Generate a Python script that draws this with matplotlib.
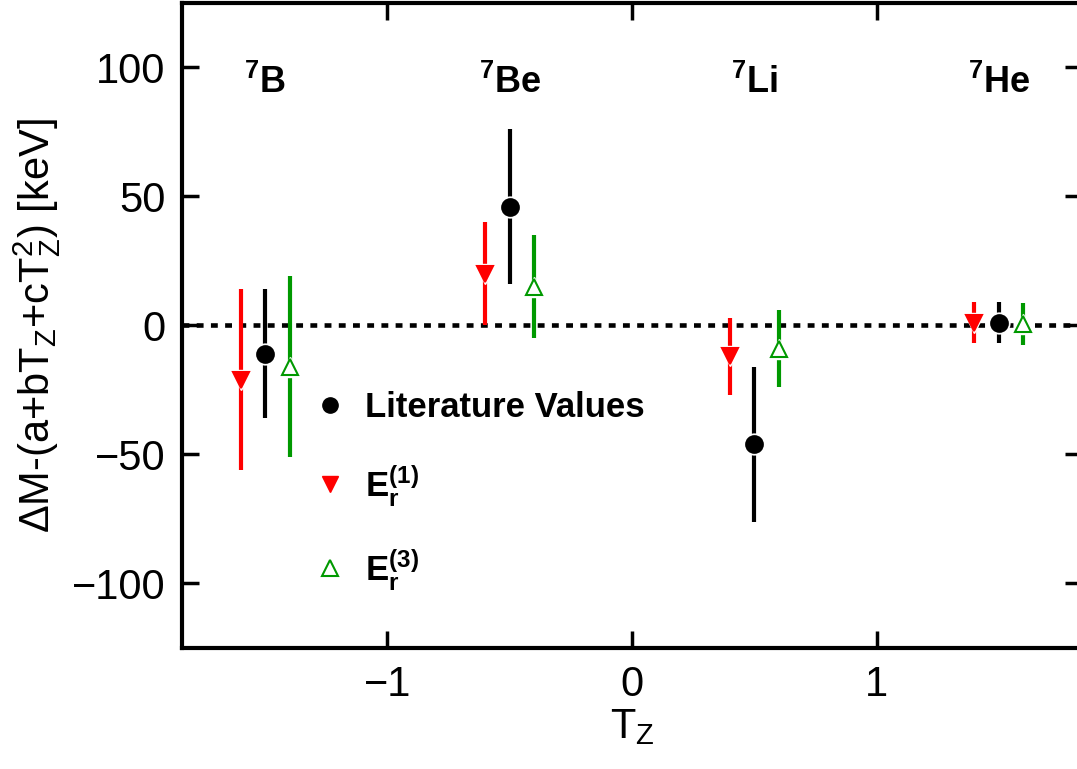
import matplotlib
matplotlib.use("Agg")
import matplotlib.pyplot as plt
from matplotlib.lines import Line2D

plt.rcParams['font.family'] = ['Liberation Sans', 'DejaVu Sans']
plt.rcParams['mathtext.fontset'] = 'custom'
plt.rcParams['mathtext.rm'] = 'Liberation Sans'
plt.rcParams['mathtext.it'] = 'Liberation Sans'
plt.rcParams['mathtext.bf'] = 'Liberation Sans:bold'
plt.rcParams['mathtext.default'] = 'regular'

# Data
tz = [-1.5, -0.5, 0.5, 1.5]
nuclei = ["B", "Be", "Li", "He"]
lit_y = [-11, 46, -46, 1]
lit_err = [25, 30, 30, 8]
e1_x = [-1.6, -0.6, 0.4, 1.4]
e1_y = [-21, 20, -12, 1]
e1_err = [35, 20, 15, 8]
e3_x = [-1.4, -0.4, 0.6, 1.6]
e3_y = [-16, 15, -9, 0.5]
e3_err = [35, 20, 15, 8]

RED = "#ff0000"
GREEN = "#009900"

fig = plt.figure(figsize=(10.77, 7.69), dpi=100)
ax = fig.add_axes([0.169, 0.1573, 0.8357, 0.8394])

ax.axhline(0, color="black", lw=3.3, linestyle=(0, (1.5, 1.6)), dash_capstyle="butt", zorder=1)

ms = 12
for xs, ys, es, col, mk, mfc in [
    (e1_x, e1_y, e1_err, RED, "v", RED),
    (tz, lit_y, lit_err, "black", "o", "black"),
    (e3_x, e3_y, e3_err, GREEN, "^", "white"),
]:
    ax.errorbar(xs, ys, yerr=es, fmt="none", ecolor=col, elinewidth=3, capsize=0, zorder=2)
    ax.plot(xs, ys, linestyle="none", marker=mk, markersize=ms + 3, color="white",
            markeredgecolor="white", zorder=3)
    ax.plot(xs, ys, linestyle="none", marker=mk, markersize=ms, markerfacecolor=mfc,
            markeredgecolor=col, markeredgewidth=1.5, zorder=4)

for x, n in zip(tz, nuclei):
    ax.text(x, 94, r"$\mathbf{^{7}" + n + "}$", ha="center", va="center", fontsize=26)

ax.set_xlim(-1.84, 1.84)
ax.set_ylim(-125, 125)
ax.set_xticks([-1, 0, 1])
ax.set_yticks([-100, -50, 0, 50, 100])
ax.tick_params(direction="in", length=12, width=2.5, labelsize=30, top=True, right=True, pad=12)
for sp in ax.spines.values():
    sp.set_linewidth(3)

ax.set_xlabel(r"T$_Z$", fontsize=30, labelpad=2)
ax.set_ylabel(r"$\Delta$M-(a+bT$_Z$+cT$_Z^2$) [keV]", fontsize=30, labelpad=6)

handles = [
    Line2D([], [], linestyle="none", marker="o", markersize=11, color="black"),
    Line2D([], [], linestyle="none", marker="v", markersize=11, color=RED),
    Line2D([], [], linestyle="none", marker="^", markersize=11, markerfacecolor="white",
           markeredgecolor=GREEN, markeredgewidth=1.5),
]
labels = ["Literature Values", r"$\mathbf{E_r^{(1)}}$", r"$\mathbf{E_r^{(3)}}$"]
leg = ax.legend(handles, labels, loc="center left", bbox_to_anchor=(0.12, 0.243),
                frameon=False, prop={"weight": "bold", "size": 25}, labelspacing=1.12,
                handletextpad=0.25, handlelength=1.5, borderaxespad=0)

fig.savefig("out.png", dpi=100)
